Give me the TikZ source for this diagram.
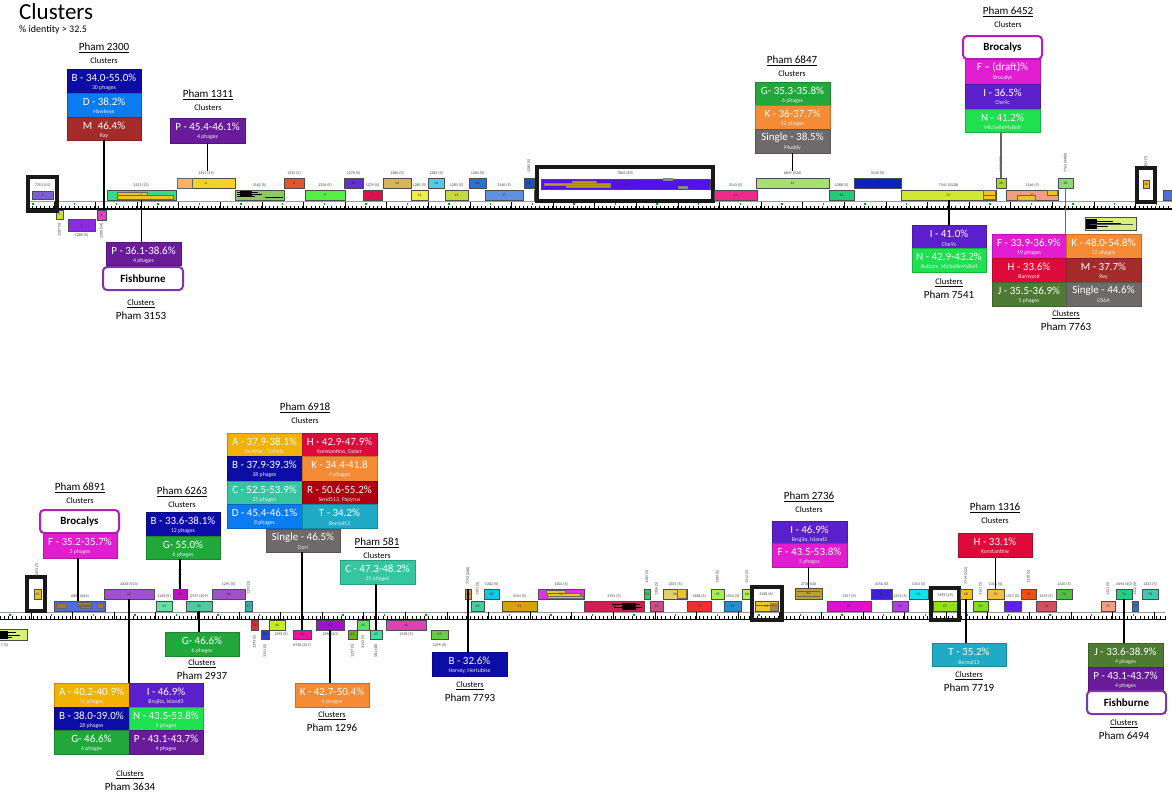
\documentclass[tikz,border=0pt]{standalone}
\usepackage{fontspec}
\setmainfont{Carlito}
\usetikzlibrary{calc}
\definecolor{clB}{HTML}{0C0CA6}
\definecolor{clD}{HTML}{0A7CF2}
\definecolor{clM}{HTML}{A52A2A}
\definecolor{clP}{HTML}{6A1B9A}
\definecolor{clI}{HTML}{5B1FCC}
\definecolor{clN}{HTML}{1FE04F}
\definecolor{clF}{HTML}{E21DCF}
\definecolor{clG}{HTML}{22A83A}
\definecolor{clK}{HTML}{F58B35}
\definecolor{clS}{HTML}{6F6A6A}
\definecolor{clH}{HTML}{DE0B3A}
\definecolor{clJ}{HTML}{4E7A33}
\definecolor{clA}{HTML}{F2B200}
\definecolor{clC}{HTML}{33C6A0}
\definecolor{clR}{HTML}{AE000F}
\definecolor{clT}{HTML}{1FAAC6}
\definecolor{broC}{HTML}{B81DB8}
\definecolor{fisC}{HTML}{7B35B3}
\definecolor{gold}{HTML}{F0C420}
\definecolor{brn}{HTML}{A07830}
\tikzset{
 gene/.style={draw=black!70,line width=0.6pt,inner sep=0pt,outer sep=0pt,font=\fontsize{3.6}{4}\selectfont,text=black!85},
 glab/.style={inner sep=0pt,font=\fontsize{4}{5}\selectfont,text=black!75},
 cbox/.style={inner sep=0pt,outer sep=0pt,line width=0.8pt},
 mtxt/.style={inner sep=0pt,text=white,font=\fontsize{11}{12}\selectfont},
 stxt/.style={inner sep=0pt,text=white!85!gray,font=\fontsize{5.8}{6}\selectfont},
 frm/.style={draw=black!90,line width=3.3pt,inner sep=0pt},
 conn/.style={line width=1.6pt,black},
 conng/.style={line width=1.2pt,black!60},
 ptitle/.style={inner sep=0pt,font=\fontsize{11}{12}\selectfont},
 csub/.style={inner sep=0pt,font=\fontsize{8.5}{9}\selectfont},
 nbox/.style={draw,line width=2pt,rounded corners=4pt,fill=white,inner sep=0pt,font=\bfseries\fontsize{11}{12}\selectfont},
 scrib/.style={line width=0.9pt,black},
}
\newcommand\Gene[7]{\definecolor{tmpc}{HTML}{#6}\node[gene,fill=tmpc,minimum width={#4-(#2)},minimum height={#5-(#3)}] (#1) at ({(#2+#4)/2},{(#3+#5)/2}) {#7};}
\newcommand\GLab[4]{\node[glab] (#1) at (#2,#3) {#4};}
\newcommand\GRot[4]{\node[glab,rotate=90] (#1) at (#2,#3) {#4};}
\newcommand\Frm[5]{\node[frm,minimum width={#4-(#2)},minimum height={#5-(#3)}] (#1) at ({(#2+#4)/2},{(#3+#5)/2}) {};}
\newcommand\CBox[8]{%
 \node[cbox,fill=#6,draw=#6!80!black,minimum width={#4-(#2)},minimum height={#5-(#3)}] (#1) at ({(#2+#4)/2},{(#3+#5)/2}) {};
 \node[mtxt] (#1m) at ([yshift=-8.3pt]#1.north) {#7};
 \node[stxt] (#1s) at ([yshift=-19pt]#1.north) {#8};}
\newcommand\PhTop[4]{\node[ptitle] (#1) at (#2,#3) {\underline{Pham #4}};
 \node[csub] (#1c) at (#2,#3+13) {Clusters};}
\newcommand\PhBot[4]{\node[csub] (#1c) at (#2,#3) {\underline{Clusters}};
 \node[ptitle] (#1) at (#2,#3+12) {Pham #4};}
\newcommand\Ruler[4]{%
 \draw[black!40,line width=0.8pt] (#1,#3) -- (#2,#3);
 \pgfmathtruncatemacro\RulerN{((#2)-(#1))/4.16}
 \foreach \i in {0,...,\RulerN}{\draw[line width=0.45pt] ({#1+\i*4.16},{#3+7.5}) -- ++(0,-3.3);}
 \pgfmathtruncatemacro\RulerM{((#2)-(#4))/41.6}
 \foreach \i in {0,...,\RulerM}{\draw[line width=0.6pt] ({#4+20.8+\i*41.6},{#3+7.5}) -- ++(0,-7.5);
   \fill[green!65!black] ({#4+\i*41.6-0.7},{#3+1.5}) rectangle ++(1.4,2.4);}
 \draw[black,line width=1.3pt] (#1,#3+7.5) -- (#2,#3+7.5);}
\begin{document}
\begin{tikzpicture}[x=1pt,y=-1pt]
\useasboundingbox (0,0) rectangle (1172,793);
\fill[white] (0,0) rectangle (1172,793);
\node[anchor=west,inner sep=0pt,font=\fontsize{23}{25}\selectfont] (title) at (19,11.5) {Clusters};
\node[anchor=west,inner sep=0pt,font=\fontsize{10}{12}\selectfont] (subt) at (19,30) {\% identity > 32.5};

%================ TOP TRACK =================
\Ruler{28}{1172}{201.5}{33}
\Gene{g1}{32}{191}{53}{199}{7A5FD6}{1}
\Gene{g2}{56}{210}{63}{219}{D4E02A}{2}
\Gene{g3}{68}{219}{95}{231}{8A2BE2}{3}
\Gene{g4}{97}{210}{106}{220}{E040C0}{4}
\Gene{g5}{107}{190}{176}{200}{33DD88}{}
\fill[gold,draw=black!60,line width=0.3pt] (117,192) rectangle (147,196);
\fill[gold,draw=black!60,line width=0.3pt] (117,195.5) rectangle (173,199.5);
\node[glab,font=\fontsize{3.6}{4}\selectfont] (g5n) at (g5) {5};
\Gene{g6}{177}{178}{235}{188}{F5D22A}{6}
\fill[orange!60!white,draw=black!60,line width=0.4pt] (177.3,178.3) rectangle (192,187.7);
\Gene{g7}{235}{190}{284}{200}{8EC860}{7}
\draw[scrib] (237,192) -- (258,192) (237,194) -- (262,194) (237,196.3) -- (255,196.3) (265,197.5) -- (283,197.5);
\fill[black] (240,191) rectangle (252,195.5);
\Gene{g8}{284}{178}{304}{188}{E0552A}{8}
\Gene{g9}{305}{190}{345}{200}{55EE44}{9}
\Gene{g10}{344}{178}{363}{188}{6030D0}{10}
\Gene{g11}{363}{190}{382}{200}{E0104A}{11}
\Gene{g12}{383}{178}{411}{188}{D9B55A}{12}
\Gene{g13}{411}{190}{428}{200}{EEEE44}{13}
\Gene{g14}{428}{178}{444}{188}{55C8F0}{14}
\Gene{g15}{445}{190}{468}{200}{C8D840}{15}
\Gene{g16}{469}{178}{486}{188}{2A70D8}{16}
\Gene{g17}{485}{190}{523}{200}{6090E0}{17}
\Gene{g18}{524}{178}{534}{188}{1A50C0}{18}
\Gene{g19}{534}{190}{542}{200}{60D040}{19}
\node[frm,fill=white,minimum width=176,minimum height=34] (f20) at (625,184) {};
\Gene{g20}{541}{179}{710}{189}{5510EE}{20}
\fill[gold!80!black,draw=black!50,line width=0.3pt] (544,183) rectangle (610,185.3) (572,180.8) rectangle (596,183) (566,185.3) rectangle (610,187.3) (663,178.5) rectangle (672,180.5) (678,186) rectangle (687,188);
\Gene{g21}{714}{190}{757}{200}{F02A8A}{21}
\Gene{g22}{756}{178}{829}{188}{A8E070}{22}
\Gene{g23}{829}{190}{854}{200}{22CC77}{23}
\Gene{g24}{854}{178}{901}{188}{0A22C0}{24}
\Gene{g25}{901}{190}{996}{200}{D0E830}{25}
\fill[gold,draw=black!60,line width=0.3pt] (983,190.5) rectangle (995,195) (983,195) rectangle (995,199.5);
\Gene{g26}{996}{178}{1006}{188}{A8D830}{26}
\Gene{g27}{1006}{190}{1058}{200}{F0A080}{27}
\fill[gold,draw=black!60,line width=0.3pt] (1017,195) rectangle (1035,199.7) (1047,190.5) rectangle (1057,195);
\Gene{g28}{1058}{178}{1073}{188}{90D870}{28}
\Frm{f30}{1137}{168}{1155}{202}
\Gene{g30}{1143}{180}{1149}{188}{F0C020}{30}
\Gene{g31a}{1163}{190}{1180}{200}{4A70E0}{}
\Gene{g29}{1085}{217}{1136}{230}{D8F080}{}
\fill[black] (1086,218.5) rectangle (1097,228.5);
\draw[scrib] (1097,221) -- (1113,221) (1097,223.5) -- (1121,223.5) (1097,226.5) -- (1108,226.5);
\draw[black!70,line width=0.4pt] (1090,224.5) -- (1133,224.5);
\Frm{f1}{28}{177}{57}{211}

\GLab{l1}{42.5}{185}{7253 (15)}
\GRot{l2}{59.5}{230}{1287 (5)}
\GLab{l3}{81.5}{235.5}{1289 (5)}
\GRot{l4}{101.5}{231}{2300 (54)}
\GLab{l5}{141}{185}{3153 (15)}
\GLab{l6}{206}{173}{1311 (15)}
\GLab{l7}{259.5}{185}{3162 (5)}
\GLab{l8}{294}{173}{1325 (5)}
\GLab{l9}{325}{185}{1326 (5)}
\GLab{l10}{353.5}{173}{1278 (5)}
\GLab{l11}{372.5}{185}{1279 (5)}
\GLab{l12}{397}{173}{1280 (5)}
\GLab{l13}{419.5}{185}{1281 (5)}
\GLab{l14}{436}{173}{1282 (5)}
\GLab{l15}{456.5}{185}{1283 (5)}
\GLab{l16}{477.5}{173}{1284 (5)}
\GLab{l17}{504}{185}{3140 (5)}
\GRot{l18}{529}{166}{1285 (5)}
\GLab{l20}{625}{173}{7864 (38)}
\GLab{l21}{735.5}{185}{3143 (5)}
\GLab{l22}{792.5}{173}{6847 (324)}
\GLab{l23}{841.5}{185}{1288 (5)}
\GLab{l24}{877.5}{173}{3145 (5)}
\GLab{l25}{948.5}{185}{7541 (1028)}
\GRot{l26}{1001}{165}{6452 (30)}
\GLab{l27}{1032}{185}{3146 (5)}
\GRot{l28}{1065.5}{163}{7763 (4480)}
\GRot{l30}{1146}{163}{6453 (7)}

%================ TOP CALLOUTS =================
\PhTop{p2300}{104}{48}{2300}
\CBox{b2300B}{67}{69}{141}{93}{clB}{B - 34.0-55.0\%}{30 phages}
\CBox{b2300D}{67}{93}{141}{117}{clD}{D - 38.2\%}{Hawkeye}
\CBox{b2300M}{67}{117}{141}{140}{clM}{M\enspace 46.4\%}{Ray}
\draw[conn] (b2300M.south) -- (b2300M.south |- g4.north);

\PhTop{p1311}{208}{95}{1311}
\CBox{b1311}{170}{118}{245}{143}{clP}{P - 45.4-46.1\%}{4 phages}
\draw[conn] (b1311.south) -- (b1311.south |- l6.north);

\CBox{b3153}{106}{242}{181}{265}{clP}{P - 36.1-38.6\%}{4 phages}
\node[nbox,draw=fisC,minimum width=80,minimum height=23] (fish1) at (143,278.5) {Fishburne};
\draw[conn] (g5.south) -- (g5.south |- b3153.north);
\PhBot{p3153}{141}{304}{3153}

\PhTop{p6847}{792}{61}{6847}
\CBox{b6847G}{755}{82}{830}{105}{clG}{G- 35.3-35.8\%}{6 phages}
\CBox{b6847K}{755}{105}{830}{129}{clK}{K - 36-37.7\%}{12 phages}
\CBox{b6847S}{755}{129}{830}{153}{clS}{Single - 38.5\%}{Muddy}
\draw[conn] (b6847S.south) -- (b6847S.south |- l22.north);

\PhTop{p6452}{1008}{12}{6452}
\node[nbox,draw=broC,minimum width=79,minimum height=23] (bro1) at (1002.5,47.5) {Brocalys};
\CBox{b6452F}{965}{59}{1040}{84}{clF}{F – (draft)\%}{Brocalys}
\CBox{b6452I}{965}{84}{1040}{109}{clI}{I - 36.5\%}{Che9c}
\CBox{b6452N}{965}{109}{1040}{132}{clN}{N - 41.2\%}{MichelleMyBell}
\draw[conng] (g26.north -| b6452N.south) ++(-1.5,0) coordinate (c6452) -- (c6452 |- b6452N.south);

\CBox{b7541I}{912}{225}{986}{248}{clI}{I - 41.0\%}{Che9c}
\CBox{b7541N}{912}{248}{986}{272}{clN}{N - 42.9-43.2\%}{Butters, MichelleMyBell}
\draw[conn] (b7541I.north) -- (b7541I.north |- g25.south);
\PhBot{p7541}{949}{283}{7541}

\CBox{b7763F}{992}{234}{1066}{258}{clF}{F - 33.9-36.9\%}{19 phages}
\CBox{b7763H}{992}{258}{1066}{282}{clH}{H - 33.6\%}{Barnyard}
\CBox{b7763J}{992}{282}{1066}{306}{clJ}{J - 35.5-36.9\%}{5 phages}
\CBox{b7763K}{1066}{234}{1141}{258}{clK}{K - 48.0-54.8\%}{12 phages}
\CBox{b7763M}{1066}{258}{1141}{282}{clM}{M - 37.7\%}{Rey}
\CBox{b7763S}{1066}{282}{1141}{306}{clS}{Single - 44.6\%}{DS6A}
\draw[conng] (g28.south) -- (g28.south |- b7763K.north);
\PhBot{p7763}{1066}{315}{7763}

%================ BOTTOM TRACK =================
\Ruler{0}{1165}{612}{10}
\Gene{g29b}{-24}{629}{27}{640}{D8F080}{}
\fill[black] (-5,630.5) rectangle (8,638.5);
\draw[scrib] (8,632.5) -- (16,632.5) (8,635) -- (20,635) (8,637) -- (12,637);
\Frm{f30b}{27}{577}{45}{611}
\Gene{g30b}{34}{589}{41}{599}{F0C020}{30}
\Gene{g31}{54}{601}{105}{611}{4A70E0}{31}
\fill[brn,draw=black!60,line width=0.3pt] (56,603.5) rectangle (66,608.5) (77,602.5) rectangle (91,605) (80,606) rectangle (91,608.5) (97,603) rectangle (103,608.5);
\Gene{g32}{104}{589}{154}{599}{A050D0}{32}
\Gene{g33}{156}{601}{172}{611}{66E0A0}{33}
\Gene{g34}{173}{589}{187}{599}{C010C0}{34}
\Gene{g35}{186}{601}{212}{611}{50C8A0}{35}
\Gene{g36}{212}{589}{245}{599}{A050C8}{36}
\Gene{g37}{245}{601}{252}{611}{30B8B0}{37}
\Gene{g38}{251}{620}{258}{630}{D83040}{38}
\Gene{g39}{261}{630}{269}{639}{3040C8}{39}
\Gene{g40}{269}{620}{285}{630}{C0F020}{40}
\Gene{g41}{293}{630}{311}{639}{F010A0}{41}
\Gene{g42}{316}{620}{344}{630}{A010D0}{42}
\Gene{g43}{348}{630}{357}{639}{70B020}{43}
\Gene{g44}{357}{620}{369}{630}{60E060}{44}
\Gene{g45}{370}{630}{382}{639}{40E0A0}{45}
\Gene{g46}{386}{620}{426}{630}{E040B0}{46}
\Gene{g47}{431}{630}{448}{639}{60D040}{47}
\Gene{g48}{465}{589}{471}{599}{E0A010}{48}
\Gene{g49}{471}{601}{484}{611}{40D0A0}{49}
\Gene{g50}{484}{589}{499}{599}{10C8E8}{50}
\Gene{g51}{502}{601}{537}{611}{D8A010}{51}
\Gene{g52}{538}{589}{584}{599}{E030F0}{}
\fill[gold,draw=black!60,line width=0.3pt] (546,590.5) rectangle (565,593) (547,593) rectangle (580,595.8) (547,595.8) rectangle (583,598.5);
\node[glab,font=\fontsize{3.6}{4}\selectfont] (g52n) at (g52) {52};
\Gene{g53}{584}{601}{644}{611}{D02050}{53}
\fill[black] (622,602.5) rectangle (636,609.5);
\draw[scrib] (612,604) -- (640,604) (614,607) -- (642,607);
\Gene{g54}{644}{589}{650}{599}{30D060}{54}
\Gene{g55}{650}{601}{663}{611}{D04A8A}{55}
\Gene{g56}{663}{589}{687}{599}{E0D070}{56}
\fill[gold,draw=black!60,line width=0.3pt] (677,589.5) rectangle (686.5,598.5);
\Gene{g57}{687}{601}{711}{611}{F03030}{57}
\Gene{g58}{711}{589}{724}{599}{A8F050}{58}
\Gene{g59}{724}{601}{741}{611}{2090D0}{59}
\Gene{g60}{742}{589}{752}{599}{B0F050}{60}
\Gene{g61}{755}{601}{778}{611}{F0C820}{}
\fill[brn!80!gold,draw=black!50,line width=0.3pt] (770,603) rectangle (777.5,610.5);
\draw[black!60,line width=0.4pt] (756,605) -- (777,605);
\node[glab,font=\fontsize{3.6}{4}\selectfont] (g61n) at (g61) {61};
\Frm{f61}{752}{587}{782}{620}
\Gene{g62}{795}{588}{822}{599}{C0A030}{62}
\draw[black!60,line width=0.4pt] (797,591) -- (820,591) (797,596) -- (820,596);
\Gene{g63}{827}{601}{871}{611}{E010D0}{63}
\Gene{g64}{871}{589}{892}{599}{4020E0}{64}
\Gene{g65}{892}{601}{908}{611}{B040E0}{65}
\Gene{g66}{909}{589}{928}{599}{10E0F0}{66}
\Gene{g67}{933}{601}{957}{611}{90E020}{67}
\Frm{f67}{931}{588}{959}{620}
\Gene{g68}{960}{589}{972}{599}{F0C020}{68}
\Gene{g69}{973}{601}{988}{611}{80E020}{69}
\Gene{g70}{987}{589}{1004}{599}{F0C040}{70}
\Gene{g71}{1004}{601}{1021}{611}{6020F0}{71}
\Gene{g72}{1021}{589}{1036}{599}{F05010}{72}
\Gene{g73}{1036}{601}{1056}{611}{D05060}{73}
\Gene{g74}{1056}{589}{1072}{599}{50C040}{74}
\Gene{g75}{1101}{601}{1115}{611}{F0A080}{75}
\Gene{g76}{1116}{589}{1132}{599}{20D080}{76}
\Gene{g77}{1132}{601}{1138}{611}{3070C8}{77}
\Gene{g78}{1142}{589}{1158}{599}{40C8B0}{78}

\node[glab,anchor=west] (l29b) at (0.5,645) {7 (5)};
\GRot{m30}{37}{570}{6453 (7)}
\GLab{l31}{80}{596}{6891 (644)}
\GLab{l32}{129}{584}{3634 (513)}
\GLab{l33}{164}{596}{3149 (5)}
\GRot{l34}{180}{577}{6263 (26)}
\GLab{l35}{199}{596}{2937 (109)}
\GLab{l36}{228.5}{584}{1291 (5)}
\GRot{l37}{248.5}{588}{1292 (5)}
\GRot{l38}{254.5}{642}{1293 (5)}
\GRot{l39}{265}{651}{3151 (5)}
\GLab{l40}{281}{634.5}{1295 (5)}
\GLab{l41}{302}{645}{6918 (257)}
\GLab{l42}{330}{634.5}{1296 (20)}
\GRot{l43}{352.5}{651}{1297 (5)}
\GRot{l44}{363}{642}{3152 (5)}
\GRot{l45}{376}{651}{581 (48)}
\GLab{l46}{406}{634.5}{1318 (5)}
\GLab{l47}{439.5}{645}{1299 (5)}
\GRot{l48}{468}{576}{7793 (268)}
\GRot{l49}{477.5}{589}{1301 (5)}
\GLab{l50}{491.5}{584}{1302 (5)}
\GLab{l51}{519.5}{596}{3154 (5)}
\GLab{l52}{561}{584}{1303 (5)}
\GLab{l53}{614}{596}{3155 (5)}
\GRot{l54}{647}{577}{1305 (5)}
\GRot{l55}{656.5}{589}{1306 (5)}
\GLab{l56}{675}{584}{1307 (5)}
\GLab{l57}{699}{596}{1308 (5)}
\GRot{l58}{717.5}{577}{1309 (5)}
\GLab{l59}{732.5}{596}{1310 (5)}
\GRot{l60}{747}{577}{1312 (5)}
\GLab{l61}{766}{594.5}{3158 (6)}
\GLab{l62}{808.5}{584}{2736 (18)}
\GLab{l63}{849}{596}{3157 (5)}
\GLab{l64}{881.5}{584}{3156 (5)}
\GLab{l65}{900}{596}{1313 (5)}
\GLab{l66}{918.5}{584}{1314 (5)}
\GLab{l67}{945}{595}{7699 (19)}
\GRot{l68}{966}{576}{7719 (232)}
\GRot{l69}{980.5}{589}{3161 (5)}
\GLab{l70}{995.5}{584}{1316 (5)}
\GLab{l71}{1012.5}{596}{1317 (5)}
\GRot{l72}{1028.5}{577}{1318 (5)}
\GLab{l73}{1046}{596}{1319 (5)}
\GLab{l74}{1064}{584}{1320 (5)}
\GRot{l75}{1108}{589}{1321 (5)}
\GLab{l76}{1124}{584}{6494 (40)}
\GRot{l77}{1135}{589}{1322 (5)}
\GLab{l78}{1150}{584}{1323 (5)}

%================ BOTTOM CALLOUTS =================
\PhTop{p6891}{80}{488}{6891}
\node[nbox,draw=broC,minimum width=79,minimum height=23] (bro2) at (79.5,521.5) {Brocalys};
\CBox{b6891}{43}{533}{117}{558}{clF}{F - 35.2-35.7\%}{3 phages}
\draw[conn] (b6891.south) ++(-2,0) coordinate (c6891) -- (c6891 |- g31.north);

\PhTop{p6263}{182}{492}{6263}
\CBox{b6263B}{146}{512}{220}{536}{clB}{B - 33.6-38.1\%}{12 phages}
\CBox{b6263G}{146}{536}{220}{559}{clG}{G- 55.0\%}{6 phages}
\draw[conn] (g34.north -| b6263G.south) ++(-3,0) coordinate (c6263) -- (c6263 |- b6263G.south);

\PhTop{p6918}{305}{408}{6918}
\CBox{b6918A}{227}{433}{302}{456}{clA}{A - 37.9-38.1\%}{JacAttac, Turbido}
\CBox{b6918B}{227}{456}{302}{481}{clB}{B - 37.9-39.3\%}{28 phages}
\CBox{b6918C}{227}{481}{302}{504}{clC}{C - 52.5-53.9\%}{25 phages}
\CBox{b6918D}{227}{504}{302}{528}{clD}{D - 45.4-46.1\%}{8 phages}
\CBox{b6918H}{302}{433}{377}{456}{clH}{H - 42.9-47.9\%}{Konstantine, Oaker}
\CBox{b6918K}{302}{456}{377}{481}{clK}{K - 34.4-41.8}{4 phages}
\CBox{b6918R}{302}{481}{377}{504}{clR}{R - 50.6-55.2\%}{Send513, Papyrus}
\CBox{b6918T}{302}{504}{377}{528}{clT}{T - 34.2\%}{Bernal13}
\CBox{b6918S}{266}{529}{340}{552}{clS}{Single - 46.5\%}{Dori}
\draw[conn] (g41.north) -- (g41.north |- b6918S.south);

\PhTop{p581}{377}{543}{581}
\CBox{b581}{340}{560}{415}{584}{clC}{C - 47.3-48.2\%}{25 phages}
\draw[conn] (g45.north) -- (g45.north |- b581.south);

\CBox{b2937}{165}{632}{239}{656}{clG}{G- 46.6\%}{6 phages}
\draw[conn] (g35.south) -- (g35.south |- b2937.north);
\PhBot{p2937}{202}{664}{2937}

\CBox{b3634A}{54}{683}{129}{707}{clA}{A - 40.2-40.9\%}{11 phages}
\CBox{b3634B}{54}{707}{129}{730}{clB}{B - 38.0-39.0\%}{28 phages}
\CBox{b3634G}{54}{730}{129}{754}{clG}{G- 46.6\%}{6 phages}
\CBox{b3634I}{129}{683}{203}{707}{clI}{I - 46.9\%}{Brujita, Island3}
\CBox{b3634N}{129}{707}{203}{730}{clN}{N - 43.5-53.8\%}{5 phages}
\CBox{b3634P}{129}{730}{203}{754}{clP}{P - 43.1-43.7\%}{4 phages}
\draw[conn] (g32.south) -- (g32.south |- b3634I.north);
\PhBot{p3634}{130}{775}{3634}

\CBox{b1296}{295}{683}{369}{707}{clK}{K - 42.7-50.4\%}{6 phages}
\draw[conn] (g42.south) -- (g42.south |- b1296.north);
\PhBot{p1296}{332}{716}{1296}

\CBox{b7793}{432}{652}{507}{676}{clB}{B - 32.6\%}{Harvey, Hertubise}
\draw[conn] (g48.north) -- (g48.north |- b7793.north);
\PhBot{p7793}{470}{686}{7793}

\PhTop{p2736}{809}{497}{2736}
\CBox{b2736I}{772}{521}{847}{543}{clI}{I - 46.9\%}{Brujita, Island3}
\CBox{b2736F}{772}{543}{847}{567}{clF}{F - 43.5-53.8\%}{5 phages}
\draw[conn] (g62.north) -- (g62.north |- b2736F.south);

\PhTop{p1316}{995}{508}{1316}
\CBox{b1316}{958}{533}{1032}{557}{clH}{H - 33.1\%}{Konstantine}
\draw[conn] (g70.north) -- (g70.north |- b1316.south);

\CBox{b7719}{932}{643}{1006}{666}{clT}{T - 35.2\%}{Bernal13}
\draw[conn] (g68.south) -- (g68.south |- b7719.north);
\PhBot{p7719}{969}{676}{7719}

\CBox{b6494J}{1088}{643}{1163}{667}{clJ}{J - 33.6-38.9\%}{4 phages}
\CBox{b6494P}{1088}{667}{1163}{690}{clP}{P - 43.1-43.7\%}{4 phages}
\node[nbox,draw=fisC,minimum width=79,minimum height=23] (fish2) at (1126.5,702.5) {Fishburne};
\draw[conn] (g76.south) -- (g76.south |- b6494J.north);
\PhBot{p6494}{1124}{724}{6494}
\end{tikzpicture}
\end{document}
